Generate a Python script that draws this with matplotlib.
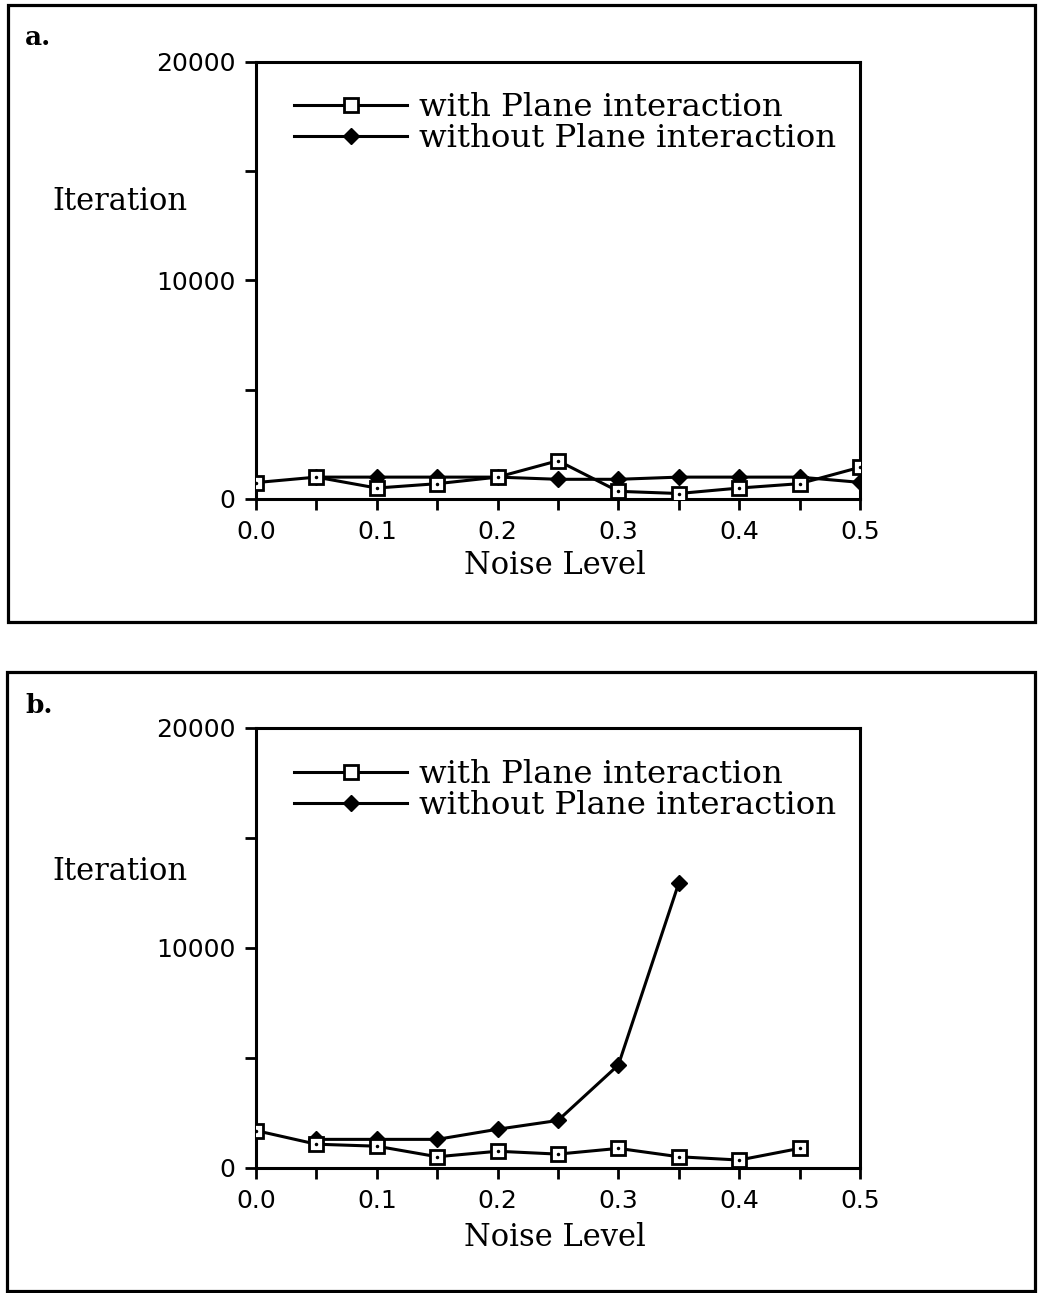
import numpy as np
import matplotlib.pyplot as plt
from matplotlib.patches import Rectangle
from matplotlib.ticker import MultipleLocator

# noise levels and iteration counts
noise_a = [0.0, 0.05, 0.1, 0.15, 0.2, 0.25, 0.3, 0.35, 0.4, 0.45, 0.5]
with_a = [750, 1000, 500, 700, 1000, 1750, 350, 250, 500, 700, 1450]
noise_a2 = [0.05, 0.1, 0.15, 0.2, 0.25, 0.3, 0.35, 0.4, 0.45, 0.5]
without_a = [1000, 1000, 1000, 1000, 900, 900, 1000, 1000, 1000, 760]

noise_b = [0.0, 0.05, 0.1, 0.15, 0.2, 0.25, 0.3, 0.35, 0.4, 0.45]
with_b = [1700, 1080, 990, 510, 760, 630, 890, 510, 360, 890]
noise_b2 = [0.05, 0.1, 0.15, 0.2, 0.25, 0.3, 0.35]
without_b = [1300, 1300, 1300, 1760, 2160, 4680, 12950]

labels = ["with Plane interaction", "without Plane interaction"]
serif = "DejaVu Serif"

fig = plt.figure(figsize=(10.41, 12.93), dpi=100)

# outer panel frames
fig.patches.append(Rectangle((0.0077, 0.519), 0.9866, 0.4772, transform=fig.transFigure,
                             fill=False, lw=2.3, ec="black"))
fig.patches.append(Rectangle((0.0067, 0.0015), 0.9876, 0.4787, transform=fig.transFigure,
                             fill=False, lw=2.3, ec="black"))


def panel(rect, xw, yw, xo, yo, tag, tag_y, ylab_y, xlab_y, leg_top):
    ax = fig.add_axes(rect)
    ax.plot(xw, yw, color="black", lw=2.2, marker="s", ms=10, mfc="white",
            mec="black", mew=2, label=labels[0], zorder=3)
    ax.plot(xw, yw, ls="none", marker=".", ms=3, color="black", zorder=4)
    ax.plot(xo, yo, color="black", lw=2.2, marker="D", ms=8, mfc="black",
            mec="black", label=labels[1], zorder=2)
    ax.set_xlim(0, 0.5)
    ax.set_ylim(0, 20000)
    ax.xaxis.set_major_locator(MultipleLocator(0.1))
    ax.xaxis.set_minor_locator(MultipleLocator(0.05))
    ax.yaxis.set_major_locator(MultipleLocator(10000))
    ax.yaxis.set_minor_locator(MultipleLocator(5000))
    ax.xaxis.set_major_formatter(lambda v, p: f"{v:.1f}")
    ax.yaxis.set_major_formatter(lambda v, p: f"{int(v)}")
    ax.tick_params(which="both", direction="out", length=8, width=2, labelsize=18, pad=7)
    for s in ax.spines.values():
        s.set_linewidth(2.2)
    ax.legend(loc="upper left", bbox_to_anchor=(0.036, leg_top), frameon=False,
              borderpad=0, handlelength=3.5, handletextpad=0.38, labelspacing=0.0,
              numpoints=1, prop={"family": serif, "size": 23.3})
    fig.text(25 / 1041, tag_y, tag, family=serif, fontsize=19, fontweight="bold", va="top")
    fig.text(52 / 1041, ylab_y, "Iteration", family=serif, fontsize=22, va="center")
    fig.text(555 / 1041, xlab_y, "Noise Level", family=serif, fontsize=22,
             ha="center", va="center")
    return ax


panel([0.2459, 0.6141, 0.5802, 0.338], noise_a, with_a, noise_a2, without_a,
      "a.", 1 - 25 / 1293, 1 - 202 / 1293, 1 - 565 / 1293, 0.968)
panel([0.2459, 0.0967, 0.5802, 0.3403], noise_b, with_b, noise_b2, without_b,
      "b.", 1 - 693 / 1293, 1 - 872 / 1293, 1 - 1238 / 1293, 0.966)

fig.savefig("out.png", dpi=100)
